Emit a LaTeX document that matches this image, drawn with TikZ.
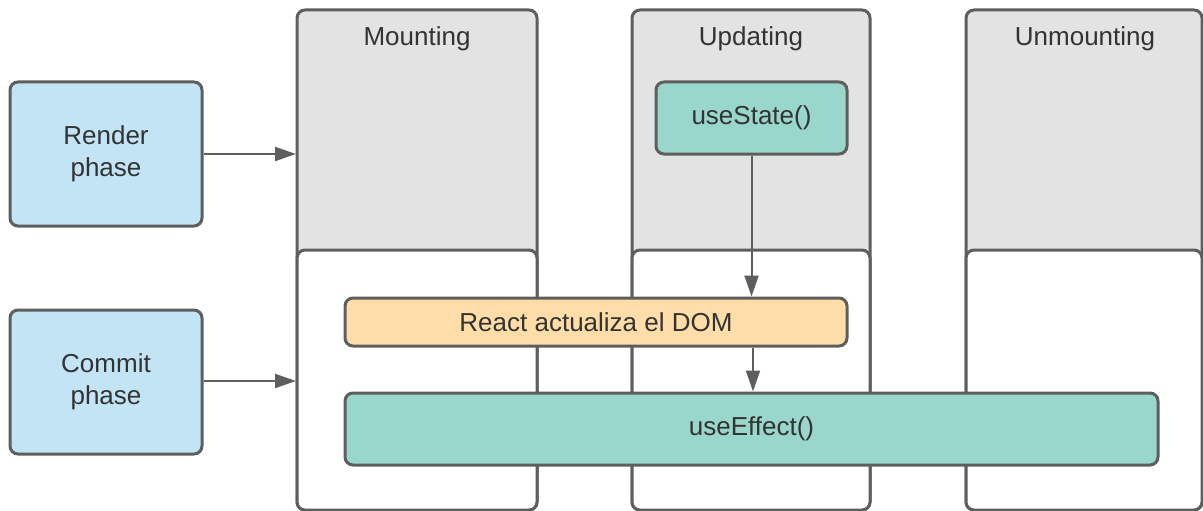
\documentclass[tikz,border=0pt]{standalone}
\usepackage{fontspec}
\setmainfont{Liberation Sans}
\usetikzlibrary{arrows.meta}
\definecolor{edge}{HTML}{5E5E5E}
\definecolor{ink}{HTML}{333333}
\definecolor{lanegray}{HTML}{E3E3E3}
\definecolor{phaseblue}{HTML}{C2E4F5}
\definecolor{hookteal}{HTML}{99D6CB}
\definecolor{domorange}{HTML}{FFDDA8}
\tikzset{
  box/.style={draw=edge, line width=3pt, rounded corners=8pt, inner sep=0pt,
    text=ink, font=\fontsize{26}{32}\selectfont, align=center},
  lanefull/.style={box, fill=lanegray, minimum width=#1, minimum height=500pt},
  lanebot/.style={box, fill=white, minimum width=#1, minimum height=260pt},
  phase/.style={box, fill=phaseblue, minimum width=192pt, minimum height=144pt},
  flow/.style={draw=edge, line width=2pt, -{Triangle[length=21pt,width=14pt]}},
  title/.style={text=ink, font=\fontsize{26}{32}\selectfont}
}
\begin{document}
\begin{tikzpicture}[x=1pt, y=-1pt]
  \useasboundingbox (0,0) rectangle (1203,511);
  % lanes: grey lane with a white lower panel laid over it
  \node[lanefull=240pt] (mt) at (417,260) {};
  \node[lanebot=240pt] (mb) at (417,380) {};
  \node[lanefull=238pt] (ut) at (751,260) {};
  \node[lanebot=238pt] (ub) at (751,380) {};
  \node[lanefull=236pt] (nt) at (1084,260) {};
  \node[lanebot=236pt] (nb) at (1084,380) {};
  \node[title] (mtitle) at (417,39) {Mounting};
  \node[title] (utitle) at (751,39) {Updating};
  \node[title] (ntitle) at (1085,39) {Unmounting};
  % phases
  \node[phase] (render) at (106,154) {Render\\phase};
  \node[phase] (commit) at (106,382) {Commit\\phase};
  % hooks
  \node[box, fill=hookteal, minimum width=191pt, minimum height=72pt] (state) at (751.5,118) {useState()};
  \node[box, fill=domorange, minimum width=502pt, minimum height=48pt] (dom) at (596,322) {React actualiza el DOM};
  \node[box, fill=hookteal, minimum width=813pt, minimum height=72pt] (effect) at (751.5,429) {useEffect()};
  % connectors
  \coordinate (rin) at (296,154);
  \coordinate (cin) at (296,381);
  \draw[flow] (render.east |- rin) -- (rin);
  \draw[flow] (commit.east |- cin) -- (cin);
  \draw[flow] (state.south) -- (state.south |- dom.north);
  \draw[flow] (dom.south -| 753,0) -- (effect.north -| 753,0);
\end{tikzpicture}
\end{document}
